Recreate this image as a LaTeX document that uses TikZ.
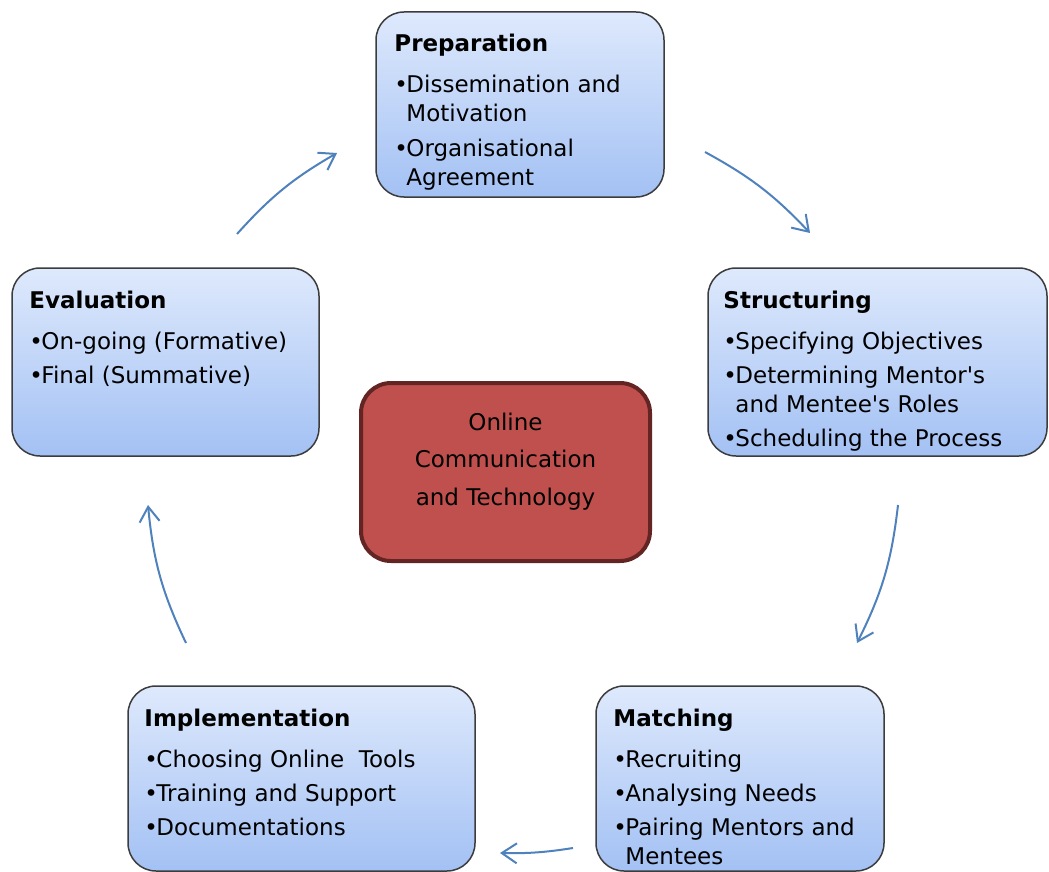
\documentclass[tikz,border=0pt]{standalone}
\usepackage{fontspec}
\setmainfont{DejaVu Sans}
\usepackage{tikz}
\usetikzlibrary{shapes,arrows.meta}
\definecolor{boxtop}{RGB}{222,233,252}
\definecolor{boxbot}{RGB}{163,193,244}
\definecolor{boxline}{RGB}{60,60,60}
\definecolor{hubfill}{RGB}{192,80,77}
\definecolor{hubline}{RGB}{99,37,35}
\definecolor{cyc}{RGB}{79,129,189}
\tikzstyle{block} = [rectangle, draw=boxline, line width=1.5pt, top color=boxtop,
bottom color=boxbot, rounded corners=28pt, inner sep=0pt]
\tikzstyle{blocktext} = [anchor=north west, inner sep=0pt, align=left,
font=\fontsize{23}{29}\selectfont]
\tikzstyle{hub} = [rectangle, draw=hubline, line width=4pt, fill=hubfill,
rounded corners=30pt, minimum width=289pt, minimum height=178pt]
\tikzstyle{line} = [draw=cyc, line width=2pt, -{Straight Barb[length=15pt,width=20pt]}]
\newcommand{\bul}{\makebox[12pt][l]{\textbullet}}
\newcommand{\ind}{\hspace*{12pt}}
\begin{document}
\begin{tikzpicture}[x=1pt, y=-1pt]
    \useasboundingbox (0,0) rectangle (1049,872);
    % Place nodes
    \node [block, minimum width=288pt, minimum height=185pt] (prep) at (520,104.5) {};
    \node [block, minimum width=339pt, minimum height=188pt] (struct) at (877.5,362) {};
    \node [block, minimum width=288pt, minimum height=185pt] (match) at (740,778.5) {};
    \node [block, minimum width=347pt, minimum height=185pt] (impl) at (301.5,778.5) {};
    \node [block, minimum width=307pt, minimum height=188pt] (eval) at (165.5,362) {};
    \node [hub] (hub) at (505.5,472) {};

    % Texts
    \node [blocktext] (preptext) at ([shift={(19,20)}]prep.north west)
    {\strut\textbf{Preparation}\\[12pt]
    \bul Dissemination and\\ \ind Motivation\\[6pt]
    \bul Organisational\\ \ind Agreement};
    \node [blocktext] (structtext) at ([shift={(16,21)}]struct.north west)
    {\strut\textbf{Structuring}\\[12pt]
    \bul Specifying Objectives\\[5pt]
    \bul Determining Mentor\textquotesingle s\\ \ind and Mentee\textquotesingle s Roles\\[5pt]
    \bul Scheduling the Process};
    \node [blocktext] (matchtext) at ([shift={(18,21)}]match.north west)
    {\strut\textbf{Matching}\\[12pt]
    \bul Recruiting\\[5pt]
    \bul Analysing Needs\\[5pt]
    \bul Pairing Mentors and\\ \ind Mentees};
    \node [blocktext] (impltext) at ([shift={(17,21)}]impl.north west)
    {\strut\textbf{Implementation}\\[12pt]
    \bul Choosing Online\ \ Tools\\[5pt]
    \bul Training and Support\\[5pt]
    \bul Documentations};
    \node [blocktext] (evaltext) at ([shift={(18,21)}]eval.north west)
    {\strut\textbf{Evaluation}\\[12pt]
    \bul On-going (Formative)\\[5pt]
    \bul Final (Summative)};
    \node [align=center, font=\fontsize{23}{37.5}\selectfont] (hubtext)
    at ([shift={(0,-10.5)}]hub.center) {Online\\Communication\\and Technology};

    % Draw edges
    \coordinate (c1a) at (237,234);  \coordinate (c1b) at (337,153);
    \coordinate (c2a) at (705,152);  \coordinate (c2b) at (810,233);
    \coordinate (c3a) at (898,505);  \coordinate (c3b) at (857,643);
    \coordinate (c4a) at (573,848);  \coordinate (c4b) at (500,853);
    \coordinate (c5a) at (186,643);  \coordinate (c5b) at (148,505);
    \path [line] (c1a) to [bend left=9] (c1b);
    \path [line] (c2a) to [bend left=9] (c2b);
    \path [line] (c3a) to [bend left=10] (c3b);
    \path [line] (c4a) to [bend left=5] (c4b);
    \path [line] (c5a) to [bend left=10] (c5b);
\end{tikzpicture}
\end{document}
